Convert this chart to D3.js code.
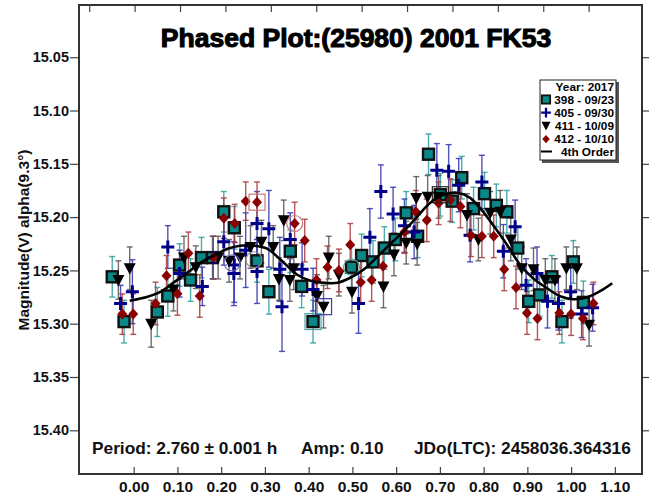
<!DOCTYPE html>
<html>
<head>
<meta charset="utf-8">
<script src="https://cdn.jsdelivr.net/npm/d3@7"></script>
<style>
  body { margin: 0; background: #fff; }
  text { font-family: "Liberation Sans", Arial, sans-serif; font-weight: bold; }
</style>
</head>
<body>
<svg id="chart"></svg>
<script>
// phased photometry, [phase, mag, err]
const s398 = [
  [-0.049, 15.256, 0.019], [-0.022, 15.298, 0.020], [0.054, 15.289, 0.023], [0.078, 15.274, 0.019],
  [0.105, 15.245, 0.020], [0.130, 15.259, 0.020], [0.155, 15.238, 0.019], [0.180, 15.238, 0.020],
  [0.206, 15.195, 0.019], [0.230, 15.210, 0.020], [0.282, 15.241, 0.020], [0.309, 15.270, 0.021],
  [0.358, 15.232, 0.020], [0.384, 15.265, 0.020], [0.410, 15.298, 0.020], [0.498, 15.247, 0.020],
  [0.521, 15.236, 0.020], [0.547, 15.242, 0.020], [0.573, 15.229, 0.020], [0.598, 15.221, 0.020],
  [0.623, 15.196, 0.020], [0.649, 15.218, 0.020], [0.674, 15.141, 0.019], [0.701, 15.179, 0.020],
  [0.728, 15.185, 0.020], [0.750, 15.163, 0.020], [0.777, 15.192, 0.020], [0.802, 15.178, 0.020],
  [0.829, 15.189, 0.020], [0.853, 15.195, 0.020], [0.878, 15.229, 0.020], [0.903, 15.279, 0.020],
  [0.928, 15.273, 0.020], [0.956, 15.256, 0.020], [0.979, 15.298, 0.020], [1.005, 15.242, 0.020],
  [1.028, 15.280, 0.020]
];
const s405 = [
  [-0.030, 15.281, 0.017], [-0.003, 15.270, 0.030], [0.078, 15.228, 0.020], [0.105, 15.253, 0.022],
  [0.157, 15.265, 0.018], [0.182, 15.238, 0.020], [0.206, 15.223, 0.022], [0.229, 15.253, 0.030],
  [0.230, 15.245, 0.035], [0.256, 15.231, 0.035], [0.282, 15.206, 0.030], [0.282, 15.251, 0.030],
  [0.309, 15.211, 0.036], [0.334, 15.249, 0.030], [0.339, 15.284, 0.042], [0.358, 15.221, 0.025],
  [0.385, 15.249, 0.025], [0.410, 15.268, 0.020], [0.514, 15.281, 0.028], [0.540, 15.219, 0.027],
  [0.565, 15.176, 0.025], [0.593, 15.197, 0.025], [0.619, 15.208, 0.025], [0.641, 15.214, 0.025],
  [0.693, 15.156, 0.025], [0.720, 15.157, 0.025], [0.743, 15.170, 0.025], [0.769, 15.217, 0.025],
  [0.796, 15.167, 0.025], [0.845, 15.232, 0.025], [0.872, 15.209, 0.025], [0.897, 15.264, 0.025],
  [0.922, 15.253, 0.025], [0.946, 15.279, 0.025], [0.971, 15.281, 0.025], [0.999, 15.270, 0.025],
  [1.024, 15.291, 0.022], [1.049, 15.285, 0.022]
];
const s411 = [
  [-0.035, 15.259, 0.018], [-0.009, 15.248, 0.020], [0.040, 15.300, 0.022], [0.091, 15.268, 0.020],
  [0.115, 15.238, 0.020], [0.142, 15.247, 0.020], [0.193, 15.238, 0.020], [0.218, 15.241, 0.020],
  [0.243, 15.238, 0.020], [0.267, 15.228, 0.020], [0.292, 15.223, 0.020], [0.319, 15.228, 0.020],
  [0.332, 15.258, 0.020], [0.343, 15.203, 0.019], [0.357, 15.259, 0.020], [0.366, 15.248, 0.020],
  [0.419, 15.274, 0.020], [0.434, 15.284, 0.020], [0.446, 15.238, 0.020], [0.469, 15.254, 0.020],
  [0.499, 15.270, 0.020], [0.571, 15.265, 0.020], [0.595, 15.235, 0.020], [0.623, 15.224, 0.020],
  [0.648, 15.225, 0.020], [0.646, 15.182, 0.020], [0.672, 15.181, 0.020], [0.697, 15.181, 0.020],
  [0.762, 15.198, 0.020], [0.788, 15.221, 0.020], [0.815, 15.196, 0.020], [0.838, 15.195, 0.020],
  [0.862, 15.221, 0.020], [0.887, 15.248, 0.020], [0.914, 15.249, 0.020], [0.941, 15.259, 0.020],
  [0.963, 15.259, 0.020], [0.989, 15.248, 0.020], [1.013, 15.248, 0.020], [1.041, 15.301, 0.020]
];
const s412 = [
  [-0.026, 15.291, 0.019], [-0.001, 15.291, 0.019], [0.050, 15.281, 0.020], [0.075, 15.255, 0.019],
  [0.100, 15.272, 0.020], [0.125, 15.234, 0.020], [0.151, 15.274, 0.020], [0.182, 15.238, 0.020],
  [0.206, 15.201, 0.019], [0.231, 15.206, 0.018], [0.256, 15.185, 0.018], [0.282, 15.186, 0.019],
  [0.368, 15.206, 0.020], [0.391, 15.222, 0.020], [0.418, 15.259, 0.020], [0.443, 15.247, 0.020],
  [0.469, 15.250, 0.020], [0.495, 15.226, 0.020], [0.519, 15.261, 0.020], [0.544, 15.259, 0.020],
  [0.570, 15.246, 0.020], [0.619, 15.214, 0.020], [0.645, 15.195, 0.020], [0.670, 15.203, 0.020],
  [0.697, 15.187, 0.020], [0.724, 15.184, 0.020], [0.747, 15.190, 0.020], [0.771, 15.217, 0.020],
  [0.796, 15.218, 0.020], [0.823, 15.218, 0.020], [0.847, 15.249, 0.020], [0.874, 15.266, 0.020],
  [0.899, 15.290, 0.020], [0.923, 15.295, 0.020], [0.973, 15.290, 0.020], [1.000, 15.291, 0.020],
  [1.027, 15.295, 0.020], [1.051, 15.281, 0.020]
];

// 4th order fit
const fitPhase = [-0.009, 0.032, 0.062, 0.091, 0.123, 0.153, 0.183, 0.215, 0.244, 0.274, 0.305, 0.336,
  0.374, 0.404, 0.434, 0.466, 0.495, 0.525, 0.557, 0.587, 0.616, 0.648, 0.678, 0.708, 0.740, 0.769,
  0.792, 0.822, 0.854, 0.884, 0.913, 0.945, 0.975, 1.005, 1.037, 1.066, 1.094];
const fitMag = [15.2784, 15.2746, 15.2699, 15.2615, 15.2521, 15.2427, 15.2362, 15.2296, 15.2268, 15.2268,
  15.2296, 15.2400, 15.2541, 15.2597, 15.2616, 15.2616, 15.2569, 15.2494, 15.2372, 15.2250, 15.2138,
  15.1997, 15.1866, 15.1791, 15.1772, 15.1819, 15.1916, 15.2076, 15.2263, 15.2451, 15.2573, 15.2667,
  15.2742, 15.2770, 15.2751, 15.2695, 15.2620];

// marked (flagged) points: [phase, mag, shape, colour]
const flagged = [
  [0.282, 15.186, "box", "#c87878"], [0.368, 15.206, "ring", "#c87878"],
  [0.410, 15.298, "box", "#4aa8a8"], [0.434, 15.284, "box", "#3a3ab0"],
  [0.498, 15.247, "ring", "#4aa8a8"], [0.701, 15.179, "box", "#222"],
  [0.275, 15.240, "ring", "#888"], [0.225, 15.243, "ring", "#6a6ac0"]
];

const yTicks = [15.05, 15.10, 15.15, 15.20, 15.25, 15.30, 15.35, 15.40];
const xTicks = [0, 0.1, 0.2, 0.3, 0.4, 0.5, 0.6, 0.7, 0.8, 0.9, 1.0, 1.1];
const legendItems = ["398 - 09/23", "405 - 09/30", "411 - 10/09", "412 - 10/10", "4th Order"];

const W = 651, H = 497;
const svg = d3.select('#chart').attr('width', W).attr('height', H);

const L = 79, R = 642, T = 5, B = 474;
const x = d3.scaleLinear().domain([-0.125, 1.162]).range([L, R]);
const y = d3.scaleLinear().domain([15.001, 15.441]).range([T, B]);
const xTop = d3.scaleLinear().domain([-0.0225, 1.2175]).range([L, R]);

// title
svg.append('rect').attr('x', 154).attr('y', 22).attr('width', 418).attr('height', 33).attr('fill', '#fff');
svg.append('text').attr('x', 356).attr('y', 47).attr('text-anchor', 'middle')
  .attr('font-size', 26.5).attr('stroke', '#000').attr('stroke-width', 1.1)
  .text('Phased Plot:(25980) 2001 FK53');

// axes
const gl = svg.append('g').attr('transform', `translate(${L},0)`)
  .call(d3.axisLeft(y).tickValues(yTicks).tickFormat(d3.format('.2f')).tickSizeOuter(0).tickSize(9).tickPadding(1));
const gr = svg.append('g').attr('transform', `translate(${R},0)`)
  .call(d3.axisLeft(y).tickValues(yTicks).tickFormat('').tickSizeOuter(0).tickSize(-7));
const gb = svg.append('g').attr('transform', `translate(0,${B})`)
  .call(d3.axisBottom(x).tickValues(xTicks).tickFormat(d3.format('.2f')).tickSizeOuter(0).tickSize(-7).tickPadding(7));
const gt = svg.append('g').attr('transform', `translate(0,${T})`)
  .call(d3.axisTop(xTop).tickValues(xTicks).tickFormat('').tickSizeOuter(0).tickSize(-7));
[gl, gr, gb, gt].forEach(g => {
  g.select('.domain').remove();
  g.selectAll('.tick line').attr('stroke', '#444').attr('stroke-width', 1.2);
  g.selectAll('.tick text').attr('fill', '#111').attr('font-size', 14.5)
    .attr('font-family', '"Liberation Sans", Arial, sans-serif').attr('font-weight', 'bold');
});
gb.selectAll('.tick text').attr('font-size', 15.5);

svg.append('rect').attr('x', L).attr('y', T).attr('width', R - L).attr('height', B - T)
  .attr('fill', 'none').attr('stroke', '#333').attr('stroke-width', 2);

svg.append('text').attr('transform', 'translate(29,240) rotate(-90)').attr('text-anchor', 'middle')
  .attr('font-size', 15.5).attr('fill', '#111').text('Magnitude(V) alpha(9.3°)');

// error bars + markers
const series = [
  {data: s398, shape: 'square', bar: '#2f9e9e'},
  {data: s405, shape: 'plus', bar: '#3535b0'},
  {data: s411, shape: 'tri', bar: '#555'},
  {data: s412, shape: 'diamond', bar: '#a83a3a'}
];
const plot = svg.append('g');
series.forEach(s => {
  const g = plot.append('g');
  s.data.forEach(d => {
    const px = x(d[0]), y0 = y(d[1] - d[2]), y1 = y(d[1] + d[2]);
    g.append('line').attr('x1', px).attr('x2', px).attr('y1', y0).attr('y2', y1)
      .attr('stroke', s.bar).attr('stroke-width', 1.4).attr('opacity', 0.85);
    [y0, y1].forEach(yy => g.append('line').attr('x1', px - 3).attr('x2', px + 3).attr('y1', yy).attr('y2', yy)
      .attr('stroke', s.bar).attr('stroke-width', 1.4).attr('opacity', 0.85));
  });
});

function marker(g, shape, px, py, k = 1) {
  if (shape === 'square') {
    g.append('rect').attr('x', px - 5.5 * k).attr('y', py - 5.5 * k).attr('width', 11 * k).attr('height', 11 * k)
      .attr('fill', '#0a8888').attr('stroke', '#111').attr('stroke-width', 2.4 * k);
  } else if (shape === 'plus') {
    g.append('path').attr('d', `M${px - 6.5 * k},${py}H${px + 6.5 * k}M${px},${py - 6.5 * k}V${py + 6.5 * k}`)
      .attr('stroke', '#00008b').attr('stroke-width', 3 * k);
  } else if (shape === 'tri') {
    g.append('path').attr('d', `M${px - 6 * k},${py - 5 * k}L${px + 6 * k},${py - 5 * k}L${px},${py + 6.5 * k}Z`)
      .attr('fill', '#000');
  } else if (shape === 'diamond') {
    g.append('path').attr('d', `M${px},${py - 5.5 * k}L${px + 5 * k},${py}L${px},${py + 5.5 * k}L${px - 5 * k},${py}Z`)
      .attr('fill', '#8b0000');
  }
}
series.forEach(s => {
  const g = plot.append('g');
  s.data.forEach(d => marker(g, s.shape, x(d[0]), y(d[1])));
});

flagged.forEach(f => {
  const px = x(f[0]), py = y(f[1]);
  if (f[2] === 'box') {
    plot.append('rect').attr('x', px - 8).attr('y', py - 8).attr('width', 16).attr('height', 16)
      .attr('fill', 'none').attr('stroke', f[3]).attr('stroke-width', 1.2);
  } else {
    plot.append('circle').attr('cx', px).attr('cy', py).attr('r', 8)
      .attr('fill', 'none').attr('stroke', f[3]).attr('stroke-width', 1.2);
  }
});

// fit curve
const fit = fitPhase.map((p, i) => [p, fitMag[i]]);
plot.append('path').datum(fit)
  .attr('d', d3.line().x(d => x(d[0])).y(d => y(d[1])).curve(d3.curveCatmullRom))
  .attr('fill', 'none').attr('stroke', '#000').attr('stroke-width', 2.6);

// bottom annotation
const ann = svg.append('g').attr('font-size', 17.3).attr('fill', '#111');
ann.append('text').attr('x', 92).attr('y', 454).text('Period: 2.760 ± 0.001 h');
ann.append('text').attr('x', 301).attr('y', 454).text('Amp: 0.10');
ann.append('text').attr('x', 414).attr('y', 454).text('JDo(LTC): 2458036.364316');

// legend
const lg = svg.append('g');
lg.append('rect').attr('x', 542).attr('y', 82).attr('width', 77).attr('height', 81).attr('fill', '#555');
lg.append('rect').attr('x', 540).attr('y', 80).attr('width', 76).attr('height', 80)
  .attr('fill', '#fff').attr('stroke', '#222').attr('stroke-width', 1);
lg.append('text').attr('x', 614).attr('y', 90.5).attr('text-anchor', 'end').attr('font-size', 11.8).text('Year: 2017');
const rowY = [99.5, 112.5, 125.5, 139, 151.5];
legendItems.forEach((t, i) => {
  lg.append('text').attr('x', 614).attr('y', rowY[i] + 4.2).attr('text-anchor', 'end').attr('font-size', 11.8).text(t);
  if (i < 4) {
    const g = lg.append('g');
    marker(g, series[i].shape, 546, rowY[i], 0.75);
  } else {
    lg.append('line').attr('x1', 541).attr('x2', 552).attr('y1', rowY[i]).attr('y2', rowY[i])
      .attr('stroke', '#000').attr('stroke-width', 2);
  }
});
</script>
</body>
</html>
